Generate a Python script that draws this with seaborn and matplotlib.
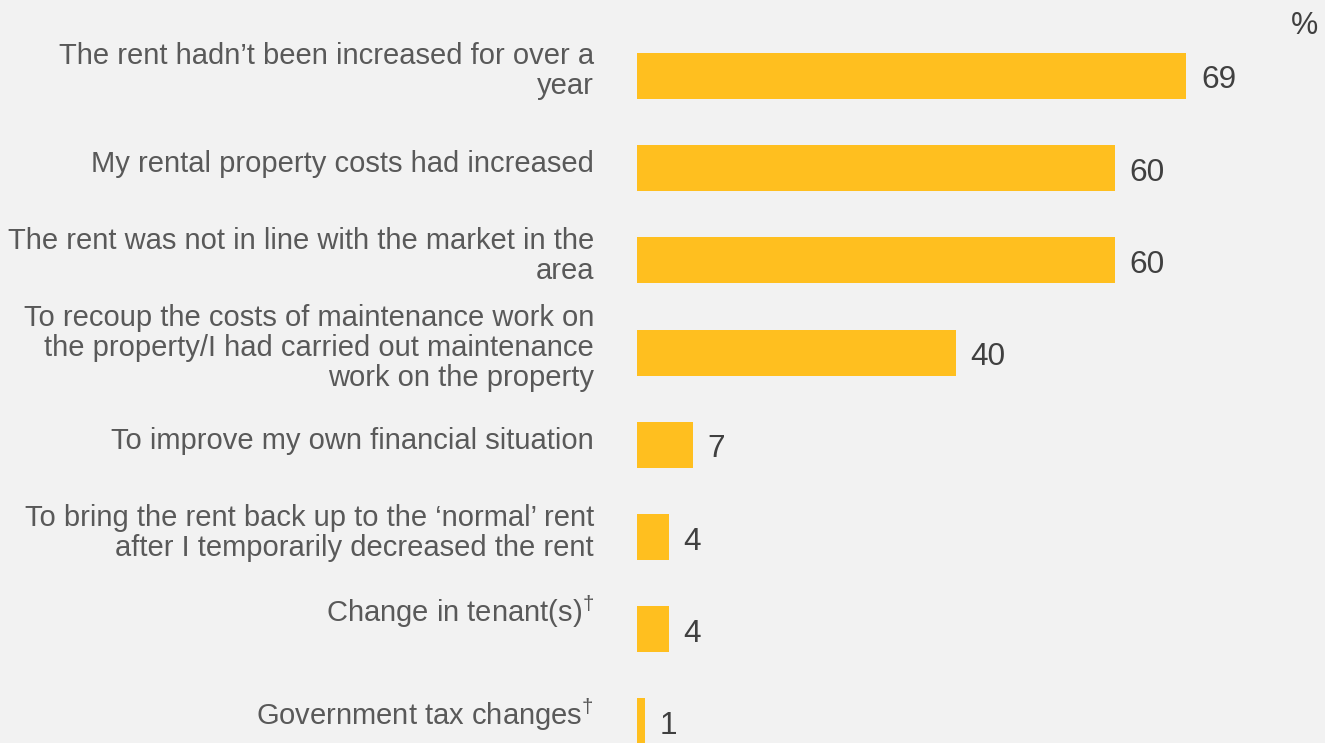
import matplotlib
matplotlib.use("Agg")
import matplotlib.pyplot as plt
import seaborn as sns
import pandas as pd

categories = [
    "The rent hadn\u2019t been increased for over a\nyear",
    "My rental property costs had increased",
    "The rent was not in line with the market in the\narea",
    "To recoup the costs of maintenance work on\nthe property/I had carried out maintenance\nwork on the property",
    "To improve my own financial situation",
    "To bring the rent back up to the \u2018normal\u2019 rent\nafter I temporarily decreased the rent",
    "Change in tenant(s)$^{\u2020}$",
    "Government tax changes$^{\u2020}$",
]
values = [69, 60, 60, 40, 7, 4, 4, 1]
unit_label = "%"

BG = "#F2F2F2"
BAR = "#FFBF1F"
LABEL_C = "#595959"
VALUE_C = "#404040"
PX = 0.72  # points per pixel at dpi 100

sns.set_theme(style="white")
plt.rcParams["font.family"] = ["Liberation Sans", "DejaVu Sans"]
plt.rcParams["mathtext.fontset"] = "custom"
plt.rcParams["mathtext.rm"] = "Liberation Sans"
plt.rcParams["mathtext.it"] = "Liberation Sans"

df = pd.DataFrame({"reason": categories, "pct": values})

fig = plt.figure(figsize=(13.25, 7.43), dpi=100, facecolor=BG)
ax = fig.add_axes([637 / 1325, 0, 688 / 1325, 1])
ax.set_facecolor(BG)

sns.barplot(data=df, x="pct", y="reason", orient="h", color=BAR,
            saturation=1, width=0.5, linewidth=0, ax=ax)

ax.set_xlim(0, 86.4)
ax.set_ylim(7.234, -0.824)
ax.set_xlabel("")
ax.set_ylabel("")
ax.set_xticks([])
ax.set_yticks(range(len(categories)))
ax.set_yticklabels([""] * len(categories))
ax.tick_params(axis="y", length=0)
for s in ax.spines.values():
    s.set_visible(False)

# category labels (right aligned, anchored at the last line's baseline)
for i, lab in enumerate(categories):
    n = lab.count("\n") + 1
    dy_px = -(4 + (n - 1) * 14.5)
    if i == 6:  # this label sits a little higher in the original layout
        dy_px += 11
    ax.annotate(lab, xy=(0, i), xycoords=("axes fraction", "data"),
                xytext=(-43 * PX, dy_px * PX), textcoords="offset points",
                ha="right", va="baseline", multialignment="right",
                fontsize=21, color=LABEL_C, linespacing=1.09,
                annotation_clip=False)

for i, v in enumerate(values):
    ax.annotate(str(v), xy=(v, i), xytext=(14.5 * PX, -12.5 * PX),
                textcoords="offset points", ha="left", va="baseline",
                fontsize=22.7, color=VALUE_C, annotation_clip=False)

fig.text(1305 / 1325, 1 - 26 / 743, unit_label, ha="center", va="center",
         fontsize=22, color=VALUE_C)

fig.savefig("out.png", dpi=100, facecolor=BG)
